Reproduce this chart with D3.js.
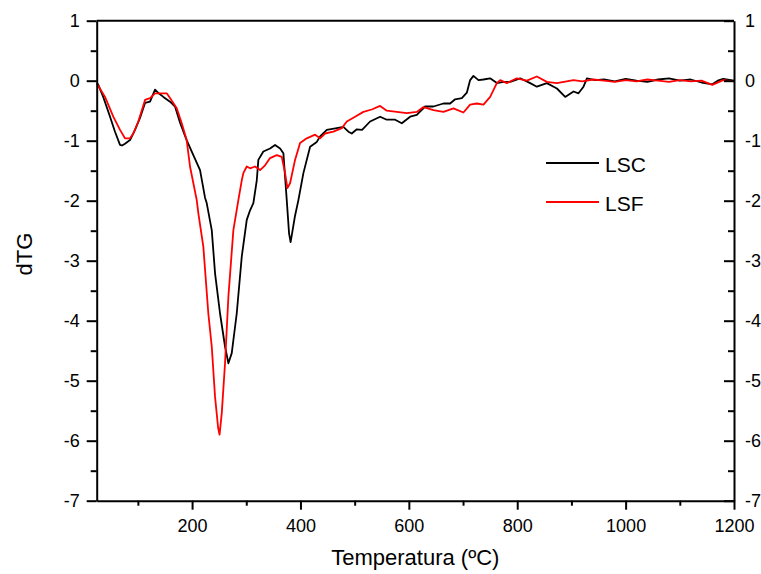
<!DOCTYPE html>
<html>
<head>
<meta charset="utf-8">
<script src="https://cdn.jsdelivr.net/npm/d3@7"></script>
<style>
  body { margin: 0; background: #fff; }
  svg text { font-family: "Liberation Sans", Arial, sans-serif; fill: #000; }
</style>
</head>
<body>
<div id="viz"></div>
<script>
// temperature (ºC) and dTG values
var lscTemp = [24.5, 27, 36, 48.6, 57.8, 67, 70.7, 76.2, 85.5, 94.7, 103.9, 113.2, 122.4, 131.6, 137.2, 147, 159.3, 168.5, 177.8,
  190, 202.3, 214.7, 223.9, 227, 236.3, 242.4, 251.6, 260.8, 267, 273.2, 282.4, 291.7, 300.9, 307, 313.1, 319.4, 322.3,
  331.5, 343.9, 353.1, 362.4, 368.5, 371.6, 374.7, 379, 381.8, 385.4, 390, 396.2, 405.4, 417.8, 430.1, 436.2, 448.6, 467,
  479.2, 488.5, 494.7, 504, 513.7, 528.5, 547, 559.3, 574.7, 587, 602.4, 614.7, 630, 645.4, 663.8, 676.2, 685.4, 697.8,
  707, 713.1, 719.2, 728.5, 737.7, 750, 762.4, 774.6, 787, 805.4, 823.9, 836.2, 854.7, 873.2, 888.5, 903.9, 913, 922.3,
  928.6, 944, 960, 980, 1000, 1020, 1040, 1060, 1080, 1100, 1120, 1140, 1160, 1170, 1180, 1200];
var lscValues = [-0.04, -0.07, -0.27, -0.6, -0.85, -1.07, -1.08, -1.05, -0.99, -0.82, -0.62, -0.37, -0.35, -0.15, -0.2, -0.27, -0.35, -0.43, -0.7,
  -0.99, -1.24, -1.49, -1.95, -2.04, -2.49, -3.21, -3.88, -4.43, -4.71, -4.54, -3.88, -2.93, -2.32, -2.16, -2.04, -1.66, -1.32,
  -1.18, -1.13, -1.07, -1.13, -1.21, -1.6, -1.99, -2.55, -2.69, -2.5, -2.25, -1.99, -1.54, -1.1, -1.02, -0.93, -0.82, -0.79,
  -0.77, -0.85, -0.88, -0.81, -0.82, -0.68, -0.6, -0.65, -0.65, -0.71, -0.6, -0.57, -0.43, -0.43, -0.38, -0.38, -0.31, -0.29,
  -0.2, 0.01, 0.08, 0.01, 0.02, 0.04, -0.04, -0.02, -0.02, 0.04, -0.04, -0.1, -0.04, -0.13, -0.27, -0.18, -0.21, -0.1,
  0.04, 0.01, 0.02, -0.01, 0.03, 0.0, -0.02, 0.02, 0.04, 0.0, 0.02, -0.03, -0.06, 0.0, 0.03, 0.0];

var lsfTemp = [24.5, 39.3, 54.6, 67, 76.2, 85.5, 91.6, 100.8, 113.2, 122.4, 131.6, 144, 153.2, 159.3, 171.7, 180.9, 190, 196.2,
  208.6, 211.6, 220.8, 230, 236.3, 242.4, 248, 250.7, 254.8, 260.8, 267, 276.2, 285.4, 291.7, 294.6, 300.9, 307, 316.2,
  325.5, 334.7, 343.9, 356.3, 365.5, 371.6, 375.9, 380.8, 390, 399.3, 411.6, 427, 436.2, 445.4, 460.8, 476.3, 485.5, 500.8,
  516.1, 531.6, 547, 559.3, 577.8, 596.3, 614.7, 627, 645.4, 663.8, 682.3, 700.7, 713.1, 725.5, 737.7, 750, 762.4, 768.5,
  780.9, 799.3, 817.8, 836.2, 854.7, 873.2, 903.9, 920, 940, 960, 980, 1000, 1020, 1040, 1060, 1080, 1100, 1120, 1140,
  1160, 1180, 1200];
var lsfValues = [-0.05, -0.27, -0.6, -0.82, -0.96, -0.96, -0.88, -0.68, -0.32, -0.29, -0.21, -0.21, -0.21, -0.29, -0.46, -0.71, -0.99, -1.43,
  -1.99, -2.21, -2.77, -3.88, -4.43, -5.27, -5.78, -5.9, -5.54, -4.71, -3.6, -2.49, -1.99, -1.66, -1.54, -1.43, -1.46, -1.43,
  -1.49, -1.41, -1.29, -1.24, -1.27, -1.54, -1.79, -1.71, -1.32, -1.04, -0.96, -0.9, -0.96, -0.88, -0.85, -0.79, -0.68, -0.6,
  -0.52, -0.48, -0.42, -0.5, -0.52, -0.54, -0.52, -0.44, -0.49, -0.52, -0.46, -0.53, -0.4, -0.38, -0.4, -0.27, -0.04, 0.01,
  -0.04, 0.04, 0.0, 0.07, -0.02, -0.04, 0.01, -0.01, 0.02, 0.0, -0.02, 0.01, -0.01, 0.02, 0.0, -0.02, 0.01, -0.01, 0.0,
  -0.07, 0.01, -0.01];

var xTicks = [200, 400, 600, 800, 1000, 1200];
var xMinorTicks = [100, 300, 500, 700, 900, 1100];
var yTicks = [-7, -6, -5, -4, -3, -2, -1, 0, 1];
var yMinorTicks = [-6.5, -5.5, -4.5, -3.5, -2.5, -1.5, -0.5, 0.5];

var series = [
  {name: "LSC", temp: lscTemp, values: lscValues, color: "#000000"},
  {name: "LSF", temp: lsfTemp, values: lsfValues, color: "#ff0000"}
];

(function () {
  var width = 761, height = 574;
  var mLeft = 96.7, mRight = 734, mTop = 20.7, mBottom = 500.7;

  var x = d3.scaleLinear().domain([24, 1200]).range([mLeft, mRight]);
  var y = d3.scaleLinear().domain([-7, 1]).range([mBottom, mTop]);

  // plain hyphen minus, like the original
  var fmt = function(d) { return String(d); };

  var svg = d3.select("#viz").append("svg")
    .attr("width", width)
    .attr("height", height);

  // data lines
  var line = d3.line()
    .x(function(d) { return x(d[0]); })
    .y(function(d) { return y(d[1]); });

  series.forEach(function(s) {
    var pts = s.temp.map(function(t, i) { return [t, s.values[i]]; });
    svg.append("path")
      .datum(pts)
      .attr("fill", "none")
      .attr("stroke", s.color)
      .attr("stroke-width", 1.8)
      .attr("stroke-linejoin", "round")
      .attr("d", line);
  });

  function styleAxis(g) {
    g.attr("font-size", 18).attr("font-family", null);
    g.selectAll("path, line").attr("stroke", "#000").attr("stroke-width", 2);
    g.selectAll("text").attr("fill", "#000");
  }

  // left axis
  svg.append("g")
    .attr("transform", "translate(" + mLeft + ",0)")
    .call(d3.axisLeft(y).tickValues(yMinorTicks).tickSize(6).tickSizeOuter(0).tickFormat(""))
    .call(styleAxis);
  svg.append("g")
    .attr("transform", "translate(" + mLeft + ",0)")
    .call(d3.axisLeft(y).tickValues(yTicks).tickSize(10).tickSizeOuter(0).tickPadding(7).tickFormat(fmt))
    .call(styleAxis)
    .call(function(g) { g.select(".domain").remove(); });

  // right axis, ticks pointing inward
  svg.append("g")
    .attr("transform", "translate(" + mRight + ",0)")
    .call(d3.axisRight(y).tickValues(yMinorTicks).tickSizeInner(-6).tickSizeOuter(0).tickFormat(""))
    .call(styleAxis);
  svg.append("g")
    .attr("transform", "translate(" + mRight + ",0)")
    .call(d3.axisRight(y).tickValues(yTicks).tickSizeInner(-10).tickSizeOuter(0).tickPadding(11).tickFormat(fmt))
    .call(styleAxis)
    .call(function(g) { g.select(".domain").remove(); });

  // bottom axis
  svg.append("g")
    .attr("transform", "translate(0," + mBottom + ")")
    .call(d3.axisBottom(x).tickValues(xMinorTicks).tickSize(5).tickSizeOuter(0).tickFormat(""))
    .call(styleAxis);
  svg.append("g")
    .attr("transform", "translate(0," + mBottom + ")")
    .call(d3.axisBottom(x).tickValues(xTicks).tickSize(9).tickSizeOuter(0).tickPadding(10).tickFormat(fmt))
    .call(styleAxis)
    .call(function(g) { g.select(".domain").remove(); });

  // top frame line
  svg.append("line")
    .attr("x1", mLeft).attr("x2", mRight)
    .attr("y1", mTop).attr("y2", mTop)
    .attr("stroke", "#000").attr("stroke-width", 2);

  // axis titles
  svg.append("text")
    .attr("x", (mLeft + mRight) / 2)
    .attr("y", 565)
    .attr("text-anchor", "middle")
    .attr("font-size", 22)
    .text("Temperatura (ºC)");

  svg.append("text")
    .attr("transform", "translate(32,254) rotate(-90)")
    .attr("text-anchor", "middle")
    .attr("font-size", 22)
    .text("dTG");

  // legend
  var legend = svg.append("g").attr("transform", "translate(546,163)");
  series.forEach(function(s, i) {
    var row = legend.append("g").attr("transform", "translate(0," + (i * 39) + ")");
    row.append("line")
      .attr("x1", 0).attr("x2", 53)
      .attr("y1", 0).attr("y2", 0)
      .attr("stroke", s.color).attr("stroke-width", 1.8);
    row.append("text")
      .attr("x", 59).attr("y", 9)
      .attr("font-size", 21)
      .text(s.name);
  });
})();
</script>
</body>
</html>
